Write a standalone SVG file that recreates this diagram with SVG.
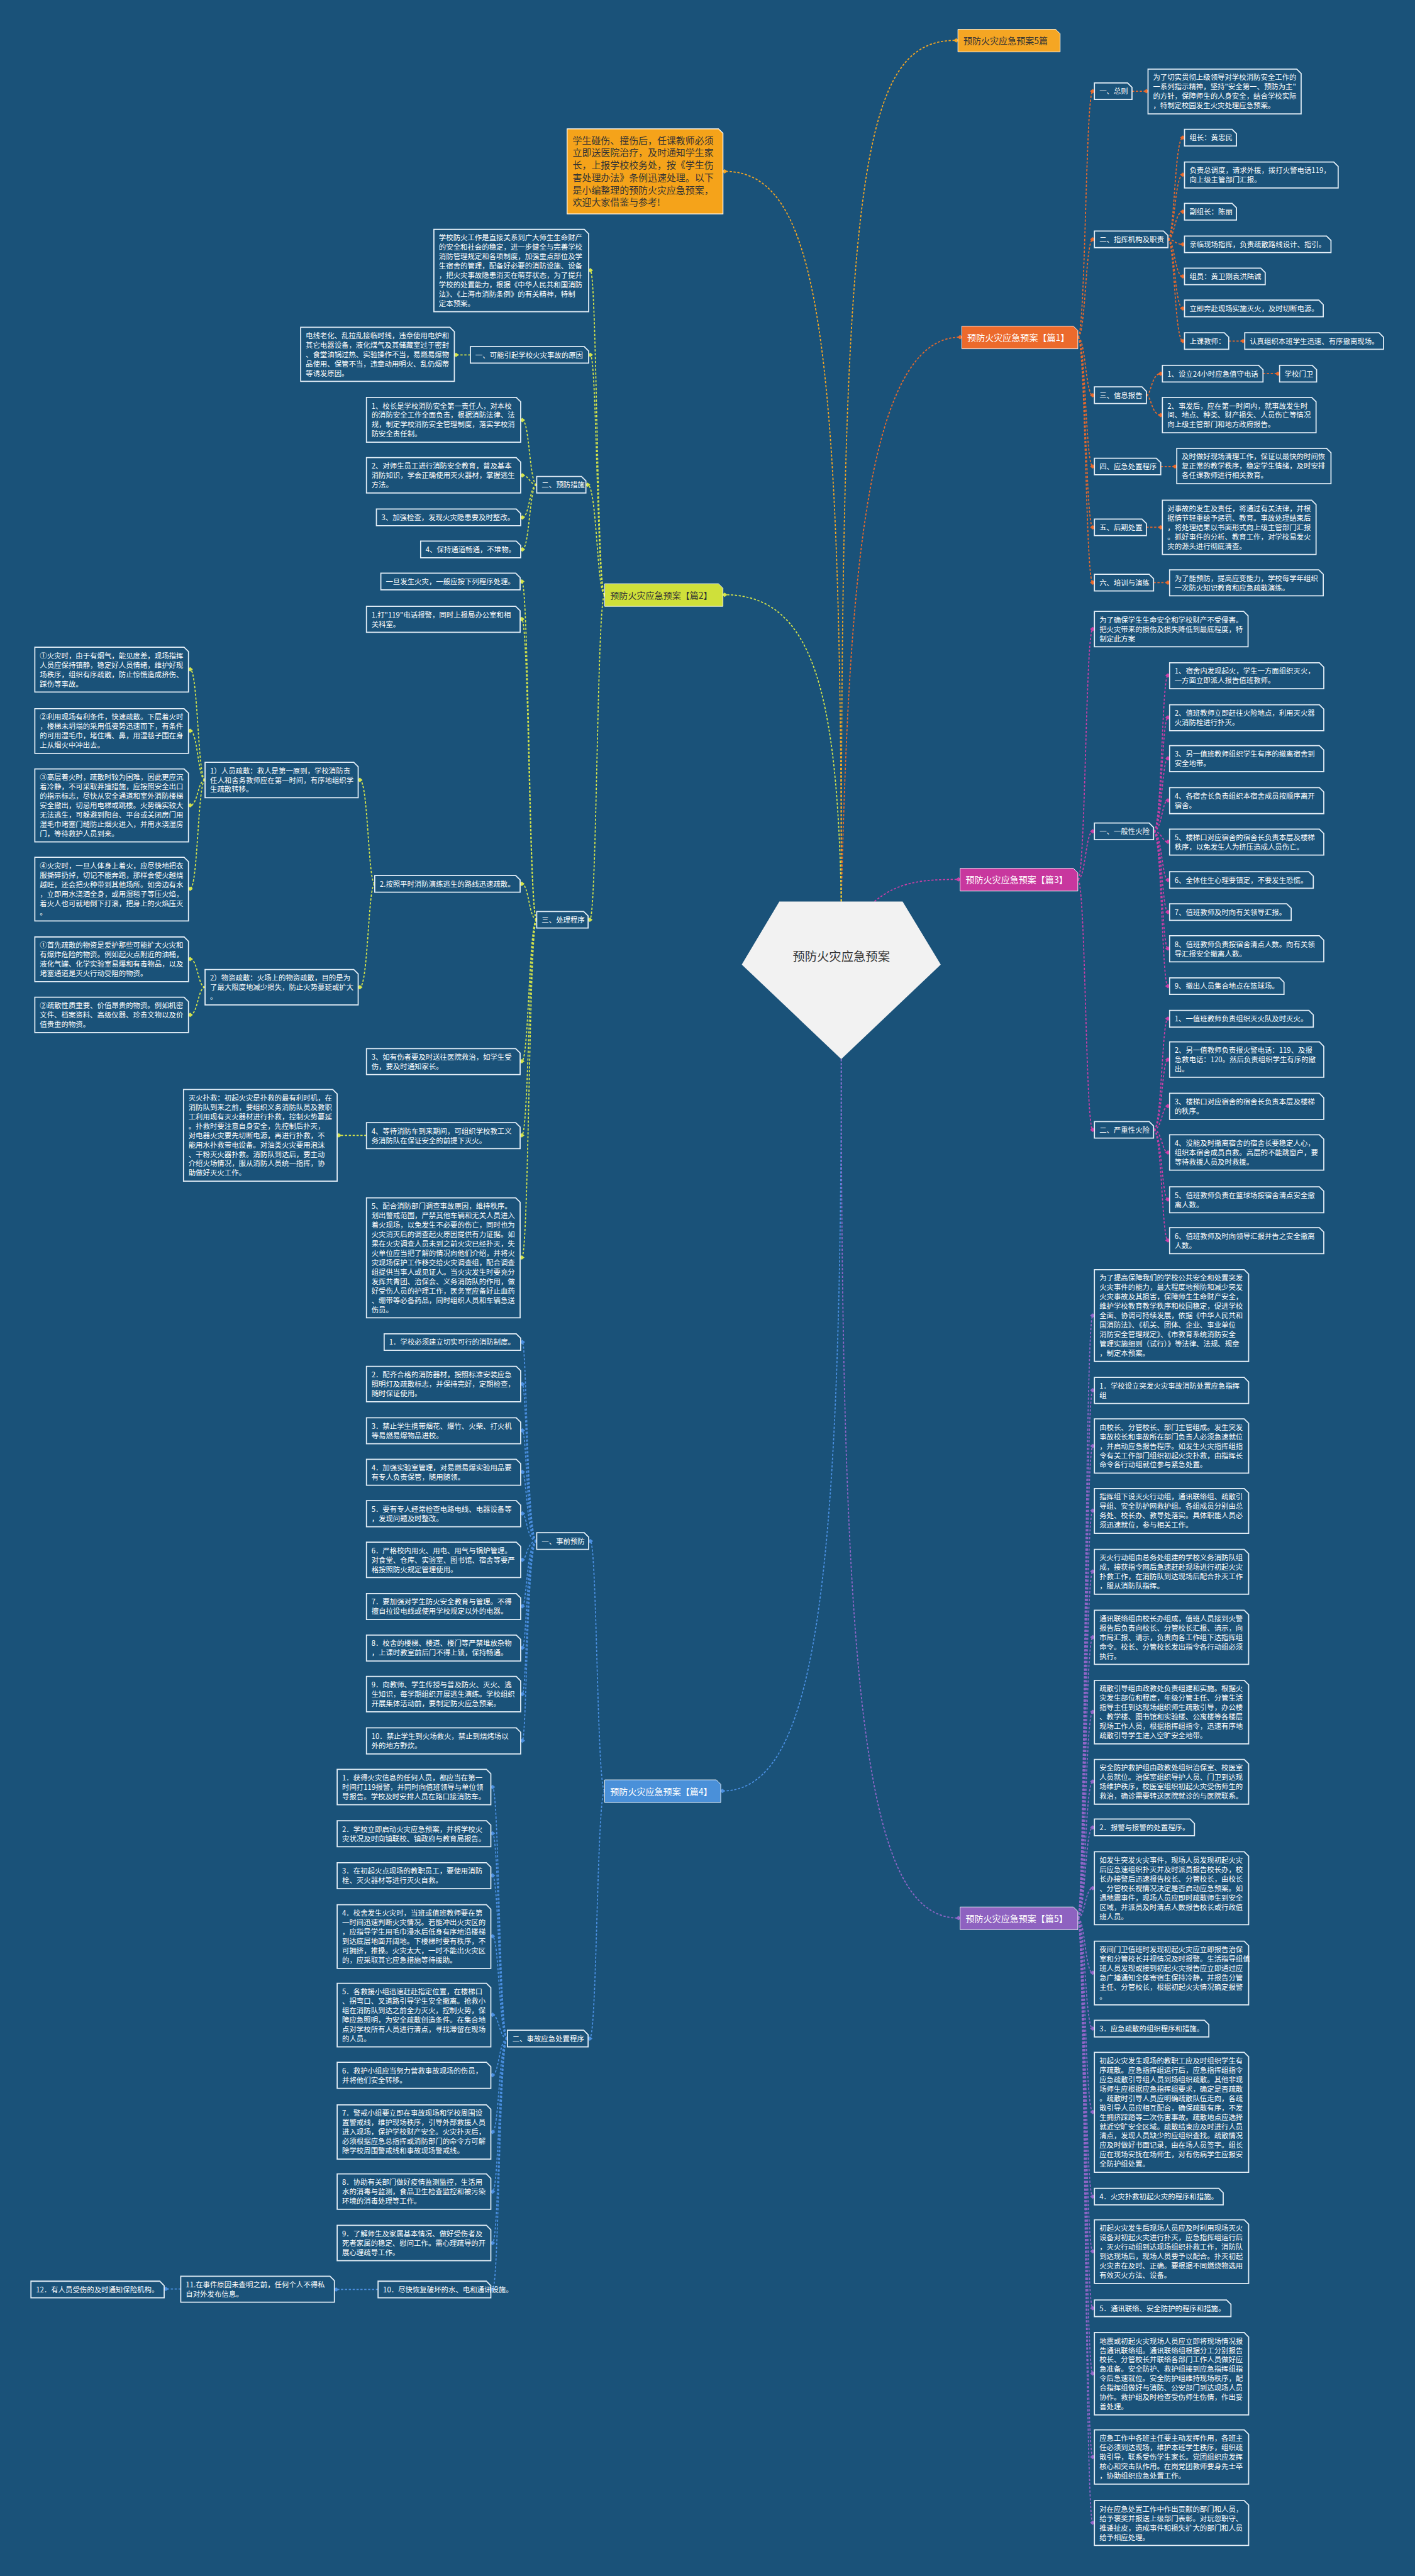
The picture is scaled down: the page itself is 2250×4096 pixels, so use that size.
<svg xmlns="http://www.w3.org/2000/svg" width="2250" height="4096" viewBox="0 0 2250 4096">
<defs>
<style>
.t{font-family:"Noto Sans CJK SC","Noto Sans",sans-serif;font-size:13px;fill:#ffffff}
.bx{fill:#1a5279;stroke:#e3eef7;stroke-width:2}
.c{fill:none;stroke-width:2;stroke-dasharray:4 3}
.lb{font-family:"Noto Sans CJK SC","Noto Sans",sans-serif;font-size:16px}
.cO{stroke:#e8692c}.cA{stroke:#f5a623}.cY{stroke:#d4e34a}.cM{stroke:#c93fa6}.cB{stroke:#4a8fe0}.cP{stroke:#9066c8}
</style>
<marker id="mO" viewBox="-5 -5 10 10" refX="0" refY="0" markerWidth="10" markerHeight="10" orient="auto" markerUnits="userSpaceOnUse"><path d="M-5 0L0-4L5 0L0 4z" fill="#e8692c"/></marker>
<marker id="mA" viewBox="-5 -5 10 10" refX="0" refY="0" markerWidth="10" markerHeight="10" orient="auto" markerUnits="userSpaceOnUse"><path d="M-5 0L0-4L5 0L0 4z" fill="#f5a623"/></marker>
<marker id="mY" viewBox="-5 -5 10 10" refX="0" refY="0" markerWidth="10" markerHeight="10" orient="auto" markerUnits="userSpaceOnUse"><path d="M-5 0L0-4L5 0L0 4z" fill="#d4e34a"/></marker>
<marker id="mM" viewBox="-5 -5 10 10" refX="0" refY="0" markerWidth="10" markerHeight="10" orient="auto" markerUnits="userSpaceOnUse"><path d="M-5 0L0-4L5 0L0 4z" fill="#c93fa6"/></marker>
<marker id="mB" viewBox="-5 -5 10 10" refX="0" refY="0" markerWidth="10" markerHeight="10" orient="auto" markerUnits="userSpaceOnUse"><path d="M-5 0L0-4L5 0L0 4z" fill="#4a8fe0"/></marker>
<marker id="mP" viewBox="-5 -5 10 10" refX="0" refY="0" markerWidth="10" markerHeight="10" orient="auto" markerUnits="userSpaceOnUse"><path d="M-5 0L0-4L5 0L0 4z" fill="#9066c8"/></marker>
</defs>
<rect x="0" y="0" width="2250" height="4096" fill="#1a5279"/>
<g transform="scale(0.87890625)">
<g id="connectors">
<path class="c cA" marker-end="url(#mA)" d="M1522 1631C1522 300 1560 73 1730 73"/>
<path class="c cA" marker-end="url(#mA)" d="M1522 1631C1522 600 1480 310 1311 310"/>
<path class="c cO" marker-end="url(#mO)" d="M1522 1631C1535 1100 1560 610 1737 610"/>
<path class="c cY" marker-end="url(#mY)" d="M1522 1631C1515 1250 1470 1076 1311 1076"/>
<path class="c cM" marker-end="url(#mM)" d="M1582 1631C1625 1595 1670 1591 1734 1591"/>
<path class="c cB" marker-end="url(#mB)" d="M1522 1916C1522 2900 1470 3240 1307 3240"/>
<path class="c cP" marker-end="url(#mP)" d="M1522 1916C1522 3100 1570 3470 1734 3470"/>
<g class="c cO" marker-end="url(#mO)">
<path d="M1950 610C1964 610 1964 165 1977 165"/>
<path d="M1950 610C1964 610 1964 433 1977 433"/>
<path d="M1950 610C1964 610 1964 715 1977 715"/>
<path d="M1950 610C1964 610 1964 844 1977 844"/>
<path d="M1950 610C1964 610 1964 954 1977 954"/>
<path d="M1950 610C1964 610 1964 1054 1977 1054"/>
<path d="M2048 165H2074"/>
<path d="M2113 433C2125 433 2125 249 2140 249"/>
<path d="M2113 433C2125 433 2125 316 2140 316"/>
<path d="M2113 433C2125 433 2125 383 2140 383"/>
<path d="M2113 433C2125 433 2125 442 2140 442"/>
<path d="M2113 433C2125 433 2125 500 2140 500"/>
<path d="M2113 433C2125 433 2125 558 2140 558"/>
<path d="M2113 433C2125 433 2125 617 2140 617"/>
<path d="M2223 617H2249"/>
<path d="M2074 715C2083 715 2083 676 2100 676"/>
<path d="M2074 715C2083 715 2083 751 2100 751"/>
<path d="M2285 676H2312"/>
<path d="M2100 844H2126"/>
<path d="M2074 954H2100"/>
<path d="M2087 1054H2113"/>
</g>
<g class="c cM" marker-end="url(#mM)">
<path d="M1950 1591C1964 1591 1964 1138 1977 1138"/>
<path d="M1950 1591C1964 1591 1964 1504 1977 1504"/>
<path d="M1950 1591C1964 1591 1964 2044 1977 2044"/>
<path d="M2087 1504C2102 1504 2102 1222 2113 1222"/>
<path d="M2087 1504C2102 1504 2102 1298 2113 1298"/>
<path d="M2087 1504C2102 1504 2102 1372 2113 1372"/>
<path d="M2087 1504C2102 1504 2102 1448 2113 1448"/>
<path d="M2087 1504C2102 1504 2102 1523 2113 1523"/>
<path d="M2087 1504C2102 1504 2102 1592 2113 1592"/>
<path d="M2087 1504C2102 1504 2102 1650 2113 1650"/>
<path d="M2087 1504C2102 1504 2102 1716 2113 1716"/>
<path d="M2087 1504C2102 1504 2102 1784 2113 1784"/>
<path d="M2087 2044C2102 2044 2102 1843 2113 1843"/>
<path d="M2087 2044C2102 2044 2102 1917 2113 1917"/>
<path d="M2087 2044C2102 2044 2102 2001 2113 2001"/>
<path d="M2087 2044C2102 2044 2102 2085 2113 2085"/>
<path d="M2087 2044C2102 2044 2102 2170 2113 2170"/>
<path d="M2087 2044C2102 2044 2102 2244 2113 2244"/>
</g>
<g class="c cP" marker-end="url(#mP)">
<path d="M1950 3470C1963 3470 1963 2380 1977 2380"/>
<path d="M1950 3470C1963 3470 1963 2515 1977 2515"/>
<path d="M1950 3470C1963 3470 1963 2616 1977 2616"/>
<path d="M1950 3470C1963 3470 1963 2733 1977 2733"/>
<path d="M1950 3470C1963 3470 1963 2843 1977 2843"/>
<path d="M1950 3470C1963 3470 1963 2962 1977 2962"/>
<path d="M1950 3470C1963 3470 1963 3097 1977 3097"/>
<path d="M1950 3470C1963 3470 1963 3223 1977 3223"/>
<path d="M1950 3470C1963 3470 1963 3306 1977 3306"/>
<path d="M1950 3470C1963 3470 1963 3416 1977 3416"/>
<path d="M1950 3470C1963 3470 1963 3569 1977 3569"/>
<path d="M1950 3470C1963 3470 1963 3670 1977 3670"/>
<path d="M1950 3470C1963 3470 1963 3821 1977 3821"/>
<path d="M1950 3470C1963 3470 1963 3974 1977 3974"/>
<path d="M1950 3470C1963 3470 1963 4073 1977 4073"/>
<path d="M1950 3470C1963 3470 1963 4176 1977 4176"/>
<path d="M1950 3470C1963 3470 1963 4294 1977 4294"/>
<path d="M1950 3470C1963 3470 1963 4445 1977 4445"/>
<path d="M1950 3470C1963 3470 1963 4564 1977 4564"/>
</g>
<g class="c cY" marker-end="url(#mY)">
<path d="M1094 1076C1080 1076 1080 489 1068 489"/>
<path d="M1094 1076C1080 1076 1080 642 1068 642"/>
<path d="M1094 1076C1080 1076 1080 877 1063 877"/>
<path d="M1094 1076C1080 1076 1080 1664 1067 1664"/>
<path d="M851 642H825"/>
<path d="M971 877C958 877 958 760 945 760"/>
<path d="M971 877C958 877 958 860 945 860"/>
<path d="M971 877C958 877 958 936 945 936"/>
<path d="M971 877C958 877 958 994 945 994"/>
<path d="M971 1664C957 1664 957 1052 944 1052"/>
<path d="M971 1664C957 1664 957 1120 944 1120"/>
<path d="M971 1664C957 1664 957 1599 944 1599"/>
<path d="M971 1664C957 1664 957 1920 944 1920"/>
<path d="M971 1664C957 1664 957 2054 944 2054"/>
<path d="M971 1664C957 1664 957 2275 944 2275"/>
<path d="M678 1599C666 1599 666 1411 651 1411"/>
<path d="M678 1599C666 1599 666 1786 651 1786"/>
<path d="M371 1411C358 1411 358 1211 344 1211"/>
<path d="M371 1411C358 1411 358 1322 344 1322"/>
<path d="M371 1411C358 1411 358 1457 344 1457"/>
<path d="M371 1411C358 1411 358 1608 344 1608"/>
<path d="M371 1786C358 1786 358 1735 344 1735"/>
<path d="M371 1786C358 1786 358 1836 344 1836"/>
<path d="M663 2054H613"/>
</g>
<g class="c cB" marker-end="url(#mB)">
<path d="M1094 3240C1080 3240 1080 2788 1068 2788"/>
<path d="M1094 3240C1080 3240 1080 3688 1067 3688"/>
<path d="M971 2788C953 2788 953 2428 945 2428"/>
<path d="M971 2788C953 2788 953 2504 945 2504"/>
<path d="M971 2788C953 2788 953 2588 945 2588"/>
<path d="M971 2788C953 2788 953 2663 945 2663"/>
<path d="M971 2788C953 2788 953 2738 945 2738"/>
<path d="M971 2788C953 2788 953 2822 945 2822"/>
<path d="M971 2788C953 2788 953 2906 945 2906"/>
<path d="M971 2788C953 2788 953 2981 945 2981"/>
<path d="M971 2788C953 2788 953 3065 945 3065"/>
<path d="M971 2788C953 2788 953 3149 945 3149"/>
<path d="M918 3688C903 3688 903 3233 891 3233"/>
<path d="M918 3688C903 3688 903 3317 891 3317"/>
<path d="M918 3688C903 3688 903 3393 891 3393"/>
<path d="M918 3688C903 3688 903 3503 891 3503"/>
<path d="M918 3688C903 3688 903 3645 891 3645"/>
<path d="M918 3688C903 3688 903 3754 891 3754"/>
<path d="M918 3688C903 3688 903 3857 891 3857"/>
<path d="M918 3688C903 3688 903 3965 891 3965"/>
<path d="M918 3688C903 3688 903 4058 891 4058"/>
<path d="M918 3688C903 3688 903 4142 891 4142"/>
<path d="M684 4142H608"/>
<path d="M327 4141H300"/>
</g>
</g>

<g id="center"><polygon points="1410,1631 1633,1631 1702,1745 1522,1916 1342,1745" fill="#f2f2f2"/><text x="1522" y="1739" text-anchor="middle" font-family="Noto Sans CJK SC,Noto Sans,sans-serif" font-size="22" fill="#333">预防火灾应急预案</text></g>

<g id="title5"><path d="M1733 53h177l8 8v33h-185z" fill="#f5a623" stroke="#fff" stroke-width="1"/><text class="lb" x="1743" y="80" fill="#333">预防火灾应急预案5篇</text></g>
<g id="note"><path d="M1026 233h274l8 8v146h-282z" fill="#f5a31a" stroke="#fff" stroke-width="1.5"/><text font-family="Noto Sans CJK SC,Noto Sans,sans-serif" font-size="17" fill="#333" x="1036" y="260"><tspan x="1036" dy="0">学生碰伤、撞伤后，任课教师必须</tspan><tspan x="1036" dy="22.5">立即送医院治疗，及时通知学生家</tspan><tspan x="1036" dy="22.5">长，上报学校校务处，按《学生伤</tspan><tspan x="1036" dy="22.5">害处理办法》条例迅速处理。以下</tspan><tspan x="1036" dy="22.5">是小编整理的预防火灾应急预案，</tspan><tspan x="1036" dy="22.5">欢迎大家借鉴与参考!</tspan></text></g>

<g id="p1"><path d="M1740 590h202l8 8v33h-210z" fill="#ec6a2c" stroke="#fff" stroke-width="1"/><text class="lb" x="1750" y="617" fill="#fff">预防火灾应急预案【篇1】</text></g>
<g id="p1a"><path class="bx" d="M1980 150h60l8 8v22h-68z"/><text class="t" x="1989" y="170">一、总则</text></g>
<g id="p1a1"><path class="bx" d="M2077 125h269l8 8v73h-277z"/><text class="t" x="2086" y="145"><tspan x="2086" dy="0">为了切实贯彻上级领导对学校消防安全工作的</tspan><tspan x="2086" dy="17">一系列指示精神，坚持"安全第一、预防为主"</tspan><tspan x="2086" dy="17">的方针，保障师生的人身安全，结合学校实际</tspan><tspan x="2086" dy="17">，特制定校园发生火灾处理应急预案。</tspan></text></g>
<g id="p1b"><path class="bx" d="M1980 418h125l8 8v22h-133z"/><text class="t" x="1989" y="438">二、指挥机构及职责</text></g>
<g id="p1b1"><path class="bx" d="M2143 234h86l8 8v22h-94z"/><text class="t" x="2152" y="254">组长：黄忠民</text></g>
<g id="p1b2"><path class="bx" d="M2143 293h270l8 8v39h-278z"/><text class="t" x="2152" y="313"><tspan x="2152" dy="0">负责总调度，请求外援，拨打火警电话119，</tspan><tspan x="2152" dy="17">向上级主管部门汇报。</tspan></text></g>
<g id="p1b3"><path class="bx" d="M2143 368h86l8 8v22h-94z"/><text class="t" x="2152" y="388">副组长：陈丽</text></g>
<g id="p1b4"><path class="bx" d="M2143 427h257l8 8v22h-265z"/><text class="t" x="2152" y="447">亲临现场指挥，负责疏散路线设计、指引。</text></g>
<g id="p1b5"><path class="bx" d="M2143 485h138l8 8v22h-146z"/><text class="t" x="2152" y="505">组员：黄卫刚袁洪陆诚</text></g>
<g id="p1b6"><path class="bx" d="M2143 543h243l8 8v22h-251z"/><text class="t" x="2152" y="563">立即奔赴现场实施灭火，及时切断电源。</text></g>
<g id="p1b7"><path class="bx" d="M2143 602h72l8 8v22h-80z"/><text class="t" x="2152" y="622">上课教师：</text></g>
<g id="p1b7a"><path class="bx" d="M2252 602h243l8 8v22h-251z"/><text class="t" x="2261" y="622">认真组织本班学生迅速、有序撤离现场。</text></g>
<g id="p1c"><path class="bx" d="M1980 700h86l8 8v22h-94z"/><text class="t" x="1989" y="720">三、信息报告</text></g>
<g id="p1c1"><path class="bx" d="M2103 661h174l8 8v22h-182z"/><text class="t" x="2112" y="681">1、设立24小时应急值守电话</text></g>
<g id="p1c1a"><path class="bx" d="M2315 661h59l8 8v22h-67z"/><text class="t" x="2324" y="681">学校门卫</text></g>
<g id="p1c2"><path class="bx" d="M2103 719h270l8 8v56h-278z"/><text class="t" x="2112" y="739"><tspan x="2112" dy="0">2、事发后，应在第一时间内，就事故发生时</tspan><tspan x="2112" dy="17">间、地点、种类、财产损失、人员伤亡等情况</tspan><tspan x="2112" dy="17">向上级主管部门和地方政府报告。</tspan></text></g>
<g id="p1d"><path class="bx" d="M1980 829h112l8 8v22h-120z"/><text class="t" x="1989" y="849">四、应急处置程序</text></g>
<g id="p1d1"><path class="bx" d="M2129 811h271l8 8v56h-279z"/><text class="t" x="2138" y="831"><tspan x="2138" dy="0">及时做好现场清理工作，保证以最快的时间恢</tspan><tspan x="2138" dy="17">复正常的教学秩序，稳定学生情绪，及时安排</tspan><tspan x="2138" dy="17">各任课教师进行相关教育。</tspan></text></g>
<g id="p1e"><path class="bx" d="M1980 939h86l8 8v22h-94z"/><text class="t" x="1989" y="959">五、后期处置</text></g>
<g id="p1e1"><path class="bx" d="M2103 905h270l8 8v90h-278z"/><text class="t" x="2112" y="925"><tspan x="2112" dy="0">对事故的发生及责任，将通过有关法律，并根</tspan><tspan x="2112" dy="17">据情节轻重给予惩罚、教育。事故处理结束后</tspan><tspan x="2112" dy="17">，将处理结果以书面形式向上级主管部门汇报</tspan><tspan x="2112" dy="17">。抓好事件的分析、教育工作，对学校易发火</tspan><tspan x="2112" dy="17">灾的源头进行彻底清查。</tspan></text></g>
<g id="p1f"><path class="bx" d="M1980 1039h99l8 8v22h-107z"/><text class="t" x="1989" y="1059">六、培训与演练</text></g>
<g id="p1f1"><path class="bx" d="M2116 1031h270l8 8v39h-278z"/><text class="t" x="2125" y="1051"><tspan x="2125" dy="0">为了能预防，提高应变能力，学校每学年组织</tspan><tspan x="2125" dy="17">一次防火知识教育和应急疏散演练。</tspan></text></g>

<g id="p3"><path d="M1737 1571h205l8 8v33h-213z" fill="#c8379e" stroke="#fff" stroke-width="1"/><text class="lb" x="1747" y="1598" fill="#fff">预防火灾应急预案【篇3】</text></g>
<g id="p3i"><path class="bx" d="M1980 1106h270l8 8v56h-278z"/><text class="t" x="1989" y="1126"><tspan x="1989" dy="0">为了确保学生生命安全和学校财产不受侵害。</tspan><tspan x="1989" dy="17">把火灾带来的损伤及损失降低到最底程度，特</tspan><tspan x="1989" dy="17">制定此方案</tspan></text></g>
<g id="p3a"><path class="bx" d="M1980 1489h99l8 8v22h-107z"/><text class="t" x="1989" y="1509">一、一般性火险</text></g>
<g id="p3a1"><path class="bx" d="M2116 1199h271l8 8v39h-279z"/><text class="t" x="2125" y="1219"><tspan x="2125" dy="0">1、宿舍内发现起火，学生一方面组织灭火，</tspan><tspan x="2125" dy="17">一方面立即派人报告值班教师。</tspan></text></g>
<g id="p3a2"><path class="bx" d="M2116 1275h271l8 8v39h-279z"/><text class="t" x="2125" y="1295"><tspan x="2125" dy="0">2、值班教师立即赶往火险地点，利用灭火器</tspan><tspan x="2125" dy="17">火消防栓进行扑灭。</tspan></text></g>
<g id="p3a3"><path class="bx" d="M2116 1349h271l8 8v39h-279z"/><text class="t" x="2125" y="1369"><tspan x="2125" dy="0">3、另一值班教师组织学生有序的撤离宿舍到</tspan><tspan x="2125" dy="17">安全地带。</tspan></text></g>
<g id="p3a4"><path class="bx" d="M2116 1425h271l8 8v39h-279z"/><text class="t" x="2125" y="1445"><tspan x="2125" dy="0">4、各宿舍长负责组织本宿舍成员按顺序离开</tspan><tspan x="2125" dy="17">宿舍。</tspan></text></g>
<g id="p3a5"><path class="bx" d="M2116 1500h271l8 8v39h-279z"/><text class="t" x="2125" y="1520"><tspan x="2125" dy="0">5、楼梯口对应宿舍的宿舍长负责本层及楼梯</tspan><tspan x="2125" dy="17">秩序，以免发生人为挤压造成人员伤亡。</tspan></text></g>
<g id="p3a6"><path class="bx" d="M2116 1577h252l8 8v22h-260z"/><text class="t" x="2125" y="1597">6、全体住生心理要镇定，不要发生恐慌。</text></g>
<g id="p3a7"><path class="bx" d="M2116 1635h212l8 8v22h-220z"/><text class="t" x="2125" y="1655">7、值班教师及时向有关领导汇报。</text></g>
<g id="p3a8"><path class="bx" d="M2116 1693h271l8 8v39h-279z"/><text class="t" x="2125" y="1713"><tspan x="2125" dy="0">8、值班教师负责按宿舍清点人数。向有关领</tspan><tspan x="2125" dy="17">导汇报安全撤离人数。</tspan></text></g>
<g id="p3a9"><path class="bx" d="M2116 1769h199l8 8v22h-207z"/><text class="t" x="2125" y="1789">9、撤出人员集合地点在篮球场。</text></g>
<g id="p3b"><path class="bx" d="M1980 2029h99l8 8v22h-107z"/><text class="t" x="1989" y="2049">二、严重性火险</text></g>
<g id="p3b1"><path class="bx" d="M2116 1828h252l8 8v22h-260z"/><text class="t" x="2125" y="1848">1、一值班教师负责组织灭火队及时灭火。</text></g>
<g id="p3b2"><path class="bx" d="M2116 1885h271l8 8v56h-279z"/><text class="t" x="2125" y="1905"><tspan x="2125" dy="0">2、另一值教师负责报火警电话：119、及报</tspan><tspan x="2125" dy="17">急救电话：120。然后负责组织学生有序的撤</tspan><tspan x="2125" dy="17">出。</tspan></text></g>
<g id="p3b3"><path class="bx" d="M2116 1978h271l8 8v39h-279z"/><text class="t" x="2125" y="1998"><tspan x="2125" dy="0">3、楼梯口对应宿舍的宿舍长负责本层及楼梯</tspan><tspan x="2125" dy="17">的秩序。</tspan></text></g>
<g id="p3b4"><path class="bx" d="M2116 2053h271l8 8v56h-279z"/><text class="t" x="2125" y="2073"><tspan x="2125" dy="0">4、没能及时撤离宿舍的宿舍长要稳定人心，</tspan><tspan x="2125" dy="17">组织本宿舍成员自救。高层的不能跳窗户，要</tspan><tspan x="2125" dy="17">等待救援人员及时救援。</tspan></text></g>
<g id="p3b5"><path class="bx" d="M2116 2147h271l8 8v39h-279z"/><text class="t" x="2125" y="2167"><tspan x="2125" dy="0">5、值班教师负责在篮球场按宿舍清点安全撤</tspan><tspan x="2125" dy="17">离人数。</tspan></text></g>
<g id="p3b6"><path class="bx" d="M2116 2221h271l8 8v39h-279z"/><text class="t" x="2125" y="2241"><tspan x="2125" dy="0">6、值班教师及时向领导汇报并告之安全撤离</tspan><tspan x="2125" dy="17">人数。</tspan></text></g>

<g id="p5"><path d="M1737 3450h205l8 8v33h-213z" fill="#8e62c0" stroke="#fff" stroke-width="1"/><text class="lb" x="1747" y="3477" fill="#fff">预防火灾应急预案【篇5】</text></g>
<g id="p5a"><path class="bx" d="M1980 2297h271l8 8v158h-279z"/><text class="t" x="1989" y="2317"><tspan x="1989" dy="0">为了提高保障我们的学校公共安全和处置突发</tspan><tspan x="1989" dy="17">火灾事件的能力，最大程度地预防和减少突发</tspan><tspan x="1989" dy="17">火灾事故及其损害，保障师生生命财产安全，</tspan><tspan x="1989" dy="17">维护学校教育教学秩序和校园稳定，促进学校</tspan><tspan x="1989" dy="17">全面、协调可持续发展，依据《中华人民共和</tspan><tspan x="1989" dy="17">国消防法》、《机关、团体、企业、事业单位</tspan><tspan x="1989" dy="17">消防安全管理规定》、《市教育系统消防安全</tspan><tspan x="1989" dy="17">管理实施细则（试行）》等法律、法规、规章</tspan><tspan x="1989" dy="17">，制定本预案。</tspan></text></g>
<g id="p5b"><path class="bx" d="M1980 2492h271l8 8v39h-279z"/><text class="t" x="1989" y="2512"><tspan x="1989" dy="0">1．学校设立突发火灾事故消防处置应急指挥</tspan><tspan x="1989" dy="17">组</tspan></text></g>
<g id="p5c"><path class="bx" d="M1980 2567h271l8 8v90h-279z"/><text class="t" x="1989" y="2587"><tspan x="1989" dy="0">由校长、分管校长、部门主管组成。发生突发</tspan><tspan x="1989" dy="17">事故校长和事故所在部门负责人必须急速就位</tspan><tspan x="1989" dy="17">，并启动应急报告程序。如发生火灾指挥组指</tspan><tspan x="1989" dy="17">令有关工作部门组织初起火灾扑救，由指挥长</tspan><tspan x="1989" dy="17">命令各行动组就位参与紧急处置。</tspan></text></g>
<g id="p5d"><path class="bx" d="M1980 2693h271l8 8v73h-279z"/><text class="t" x="1989" y="2713"><tspan x="1989" dy="0">指挥组下设灭火行动组，通讯联络组、疏散引</tspan><tspan x="1989" dy="17">导组、安全防护网救护组。各组成员分别由总</tspan><tspan x="1989" dy="17">务处、校长办、教导处落实。具体职能人员必</tspan><tspan x="1989" dy="17">须迅速就位，参与相关工作。</tspan></text></g>
<g id="p5e"><path class="bx" d="M1980 2803h271l8 8v73h-279z"/><text class="t" x="1989" y="2823"><tspan x="1989" dy="0">灭火行动组由总务处组建的学校义务消防队组</tspan><tspan x="1989" dy="17">成，接获指令网后急速赶赴现场进行初起火灾</tspan><tspan x="1989" dy="17">扑救工作，在消防队到达现场后配合扑灭工作</tspan><tspan x="1989" dy="17">，服从消防队指挥。</tspan></text></g>
<g id="p5f"><path class="bx" d="M1980 2913h271l8 8v90h-279z"/><text class="t" x="1989" y="2933"><tspan x="1989" dy="0">通讯联络组由校长办组成，值班人员接到火警</tspan><tspan x="1989" dy="17">报告后负责向校长、分管校长汇报、请示，向</tspan><tspan x="1989" dy="17">市局汇报、请示，负责向各工作组下达指挥组</tspan><tspan x="1989" dy="17">命令。校长、分管校长发出指令各行动组必须</tspan><tspan x="1989" dy="17">执行。</tspan></text></g>
<g id="p5g"><path class="bx" d="M1980 3040h271l8 8v107h-279z"/><text class="t" x="1989" y="3060"><tspan x="1989" dy="0">疏散引导组由政教处负责组建和实施。根据火</tspan><tspan x="1989" dy="17">灾发生部位和程度，年级分管主任、分管生活</tspan><tspan x="1989" dy="17">指导主任到达现场组织师生疏散引导，办公楼</tspan><tspan x="1989" dy="17">、教学楼、图书馆和实验楼、公寓楼等各楼层</tspan><tspan x="1989" dy="17">现场工作人员，根据指挥组指令，迅速有序地</tspan><tspan x="1989" dy="17">疏散引导学生进入空旷安全地带。</tspan></text></g>
<g id="p5h"><path class="bx" d="M1980 3183h271l8 8v73h-279z"/><text class="t" x="1989" y="3203"><tspan x="1989" dy="0">安全防护救护组由政教处组织治保室、校医室</tspan><tspan x="1989" dy="17">人员就位。治保室组织导护人员、门卫到达现</tspan><tspan x="1989" dy="17">场维护秩序，校医室组织初起火灾受伤师生的</tspan><tspan x="1989" dy="17">救治，确诊需要转送医院就诊的与医院联系。</tspan></text></g>
<g id="p5i"><path class="bx" d="M1980 3291h173l8 8v22h-181z"/><text class="t" x="1989" y="3311">2．报警与接警的处置程序。</text></g>
<g id="p5j"><path class="bx" d="M1980 3350h271l8 8v124h-279z"/><text class="t" x="1989" y="3370"><tspan x="1989" dy="0">如发生突发火灾事件，现场人员发现初起火灾</tspan><tspan x="1989" dy="17">后应急速组织扑灭并及时派员报告校长办，校</tspan><tspan x="1989" dy="17">长办接警后迅速报告校长、分管校长，由校长</tspan><tspan x="1989" dy="17">、分管校长视情况决定是否启动应急预案。如</tspan><tspan x="1989" dy="17">遇地震事件，现场人员应即时疏散师生到安全</tspan><tspan x="1989" dy="17">区域，并派员及时清点人数报告校长或行政值</tspan><tspan x="1989" dy="17">班人员。</tspan></text></g>
<g id="p5k"><path class="bx" d="M1980 3512h271l8 8v107h-279z"/><text class="t" x="1989" y="3532"><tspan x="1989" dy="0">夜间门卫值班时发现初起火灾应立即报告治保</tspan><tspan x="1989" dy="17">室和分管校长并视情况及时报警。生活指导组值</tspan><tspan x="1989" dy="17">班人员发现或接到初起火灾报告应立即通过应</tspan><tspan x="1989" dy="17">急广播通知全体寄宿生保持冷静，并报告分管</tspan><tspan x="1989" dy="17">主任、分管校长，根据初起火灾情况确定报警</tspan><tspan x="1989" dy="17">。</tspan></text></g>
<g id="p5l"><path class="bx" d="M1980 3655h199l8 8v22h-207z"/><text class="t" x="1989" y="3675">3．应急疏散的组织程序和措施。</text></g>
<g id="p5m"><path class="bx" d="M1980 3713h271l8 8v209h-279z"/><text class="t" x="1989" y="3733"><tspan x="1989" dy="0">初起火灾发生现场的教职工应及时组织学生有</tspan><tspan x="1989" dy="17">序疏散。应急指挥组运行后，应急指挥组指令</tspan><tspan x="1989" dy="17">应急疏散引导组人员到场组织疏散。其他非现</tspan><tspan x="1989" dy="17">场师生应根据应急指挥组要求，确定是否疏散</tspan><tspan x="1989" dy="17">。疏散时引导人员应明确疏散队伍走向，各疏</tspan><tspan x="1989" dy="17">散引导人员应相互配合，确保疏散有序，不发</tspan><tspan x="1989" dy="17">生拥挤踩踏等二次伤害事故。疏散地点应选择</tspan><tspan x="1989" dy="17">就近空旷安全区域。疏散结束应及时进行人员</tspan><tspan x="1989" dy="17">清点，发现人员缺少的应组织查找。疏散情况</tspan><tspan x="1989" dy="17">应及时做好书面记录，由在场人员签字。组长</tspan><tspan x="1989" dy="17">应在现场安抚在场师生，对有伤病学生应报安</tspan><tspan x="1989" dy="17">全防护组处置。</tspan></text></g>
<g id="p5n"><path class="bx" d="M1980 3959h225l8 8v22h-233z"/><text class="t" x="1989" y="3979">4．火灾扑救初起火灾的程序和措施。</text></g>
<g id="p5o"><path class="bx" d="M1980 4016h271l8 8v107h-279z"/><text class="t" x="1989" y="4036"><tspan x="1989" dy="0">初起火灾发生后现场人员应及时利用现场灭火</tspan><tspan x="1989" dy="17">设备对初起火灾进行扑灭，应急指挥组运行后</tspan><tspan x="1989" dy="17">，灭火行动组到达现场组织扑救工作，消防队</tspan><tspan x="1989" dy="17">到达现场后，现场人员要予以配合。扑灭初起</tspan><tspan x="1989" dy="17">火灾贵在及时、正确。要根据不同燃烧物选用</tspan><tspan x="1989" dy="17">有效灭火方法、设备。</tspan></text></g>
<g id="p5p"><path class="bx" d="M1980 4161h239l8 8v22h-247z"/><text class="t" x="1989" y="4181">5．通讯联络、安全防护的程序和措施。</text></g>
<g id="p5q"><path class="bx" d="M1980 4220h271l8 8v141h-279z"/><text class="t" x="1989" y="4240"><tspan x="1989" dy="0">地震或初起火灾现场人员应立即将现场情况报</tspan><tspan x="1989" dy="17">告通讯联络组。通讯联络组根据分工分别报告</tspan><tspan x="1989" dy="17">校长、分管校长并联络各部门工作人员做好应</tspan><tspan x="1989" dy="17">急准备。安全防护、救护组接到应急指挥组指</tspan><tspan x="1989" dy="17">令后急速就位。安全防护组维持现场秩序，配</tspan><tspan x="1989" dy="17">合指挥组做好与消防、公安部门到达现场人员</tspan><tspan x="1989" dy="17">协作。救护组及时检查受伤师生伤情，作出妥</tspan><tspan x="1989" dy="17">善处理。</tspan></text></g>
<g id="p5r"><path class="bx" d="M1980 4396h271l8 8v90h-279z"/><text class="t" x="1989" y="4416"><tspan x="1989" dy="0">应急工作中各班主任要主动发挥作用，各班主</tspan><tspan x="1989" dy="17">任必须到达现场，维护本班学生秩序，组织疏</tspan><tspan x="1989" dy="17">散引导，联系受伤学生家长。党团组织应发挥</tspan><tspan x="1989" dy="17">核心和突击队作用。在岗党团教师要身先士卒</tspan><tspan x="1989" dy="17">，协助组织应急处置工作。</tspan></text></g>
<g id="p5s"><path class="bx" d="M1980 4524h271l8 8v73h-279z"/><text class="t" x="1989" y="4544"><tspan x="1989" dy="0">对在应急处置工作中作出贡献的部门和人员，</tspan><tspan x="1989" dy="17">给予褒奖并报送上级部门表彰。对玩忽职守、</tspan><tspan x="1989" dy="17">推诿扯皮，造成事件和损失扩大的部门和人员</tspan><tspan x="1989" dy="17">给予相应处理。</tspan></text></g>

<g id="p2"><path d="M1094 1056h206l8 8v33h-214z" fill="#cfe03a" stroke="#fff" stroke-width="1"/><text class="lb" x="1104" y="1083" fill="#333">预防火灾应急预案【篇2】</text></g>
<g id="p2a"><path class="bx" d="M785 415h272l8 8v141h-280z"/><text class="t" x="794" y="435"><tspan x="794" dy="0">学校防火工作是直接关系到广大师生生命财产</tspan><tspan x="794" dy="17">的安全和社会的稳定，进一步健全与完善学校</tspan><tspan x="794" dy="17">消防管理规定和各项制度，加强重点部位及学</tspan><tspan x="794" dy="17">生宿舍的管理，配备好必要的消防设施、设备</tspan><tspan x="794" dy="17">，把火灾事故隐患消灭在萌芽状态，为了提升</tspan><tspan x="794" dy="17">学校的处置能力，根据《中华人民共和国消防</tspan><tspan x="794" dy="17">法》、《上海市消防条例》的有关精神，特制</tspan><tspan x="794" dy="17">定本预案。</tspan></text></g>
<g id="p2b"><path class="bx" d="M851 627h206l8 8v22h-214z"/><text class="t" x="860" y="647">一、可能引起学校火灾事故的原因</text></g>
<g id="p2b1"><path class="bx" d="M544 592h270l8 8v90h-278z"/><text class="t" x="553" y="612"><tspan x="553" dy="0">电线老化、乱拉乱接临时线，违章使用电炉和</tspan><tspan x="553" dy="17">其它电器设备，液化煤气及其储藏室过于密封</tspan><tspan x="553" dy="17">、食堂油锅过热、实验操作不当，易燃易爆物</tspan><tspan x="553" dy="17">品使用、保管不当，违章动用明火、乱仍烟蒂</tspan><tspan x="553" dy="17">等诱发原因。</tspan></text></g>
<g id="p2c"><path class="bx" d="M971 862h81l8 8v22h-89z"/><text class="t" x="980" y="882">二、预防措施</text></g>
<g id="p2c1"><path class="bx" d="M663 719h271l8 8v73h-279z"/><text class="t" x="672" y="739"><tspan x="672" dy="0">1、校长是学校消防安全第一责任人，对本校</tspan><tspan x="672" dy="17">的消防安全工作全面负责，根据消防法律、法</tspan><tspan x="672" dy="17">规，制定学校消防安全管理制度，落实学校消</tspan><tspan x="672" dy="17">防安全责任制。</tspan></text></g>
<g id="p2c2"><path class="bx" d="M663 828h271l8 8v56h-279z"/><text class="t" x="672" y="848"><tspan x="672" dy="0">2、对师生员工进行消防安全教育，普及基本</tspan><tspan x="672" dy="17">消防知识，学会正确使用灭火器材，掌握逃生</tspan><tspan x="672" dy="17">方法。</tspan></text></g>
<g id="p2c3"><path class="bx" d="M681 921h253l8 8v22h-261z"/><text class="t" x="690" y="941">3、加强检查，发现火灾隐患要及时整改。</text></g>
<g id="p2c4"><path class="bx" d="M761 979h173l8 8v22h-181z"/><text class="t" x="770" y="999">4、保持通道畅通，不堆物。</text></g>
<g id="p2d"><path class="bx" d="M971 1649h85l8 8v22h-93z"/><text class="t" x="980" y="1669">三、处理程序</text></g>
<g id="p2d0"><path class="bx" d="M689 1037h244l8 8v22h-252z"/><text class="t" x="698" y="1057">一旦发生火灾，一般应按下列程序处理。</text></g>
<g id="p2d1"><path class="bx" d="M663 1097h270l8 8v39h-278z"/><text class="t" x="672" y="1117"><tspan x="672" dy="0">1.打"119"电话报警，同时上报局办公室和相</tspan><tspan x="672" dy="17">关科室。</tspan></text></g>
<g id="p2d2"><path class="bx" d="M678 1584h255l8 8v22h-263z"/><text class="t" x="687" y="1604">2.按照平时消防演练逃生的路线迅速疏散。</text></g>
<g id="p2d2a"><path class="bx" d="M371 1379h269l8 8v56h-277z"/><text class="t" x="380" y="1399"><tspan x="380" dy="0">1）人员疏散：救人是第一原则，学校消防责</tspan><tspan x="380" dy="17">任人和舍务教师应在第一时间，有序地组织学</tspan><tspan x="380" dy="17">生疏散转移。</tspan></text></g>
<g id="p2d2a1"><path class="bx" d="M63 1171h270l8 8v73h-278z"/><text class="t" x="72" y="1191"><tspan x="72" dy="0">①火灾时，由于有烟气，能见度差，现场指挥</tspan><tspan x="72" dy="17">人员应保持镇静，稳定好人员情绪，维护好现</tspan><tspan x="72" dy="17">场秩序，组织有序疏散，防止惊慌造成挤伤、</tspan><tspan x="72" dy="17">踩伤等事故。</tspan></text></g>
<g id="p2d2a2"><path class="bx" d="M63 1282h270l8 8v73h-278z"/><text class="t" x="72" y="1302"><tspan x="72" dy="0">②利用现场有利条件，快速疏散。下层着火时</tspan><tspan x="72" dy="17">，楼梯未坍塌的采用低姿势迅速而下，有条件</tspan><tspan x="72" dy="17">的可用湿毛巾，堵住嘴、鼻，用湿毯子围在身</tspan><tspan x="72" dy="17">上从烟火中冲出去。</tspan></text></g>
<g id="p2d2a3"><path class="bx" d="M63 1391h270l8 8v124h-278z"/><text class="t" x="72" y="1411"><tspan x="72" dy="0">③高层着火时，疏散时较为困难，因此更应沉</tspan><tspan x="72" dy="17">着冷静，不可采取莽撞措施，应按照安全出口</tspan><tspan x="72" dy="17">的指示标志，尽快从安全通道和室外消防楼梯</tspan><tspan x="72" dy="17">安全撤出，切忌用电梯或跳楼。火势确实较大</tspan><tspan x="72" dy="17">无法逃生，可躲避到阳台、平台或关闭房门用</tspan><tspan x="72" dy="17">湿毛巾堵塞门缝防止烟火进入，并用水浇湿房</tspan><tspan x="72" dy="17">门，等待救护人员到来。</tspan></text></g>
<g id="p2d2a4"><path class="bx" d="M63 1551h270l8 8v107h-278z"/><text class="t" x="72" y="1571"><tspan x="72" dy="0">④火灾时，一旦人体身上着火，应尽快地把衣</tspan><tspan x="72" dy="17">服撕碎扔掉，切记不能奔跑，那样会使火越烧</tspan><tspan x="72" dy="17">越旺，还会把火种带到其他场所。如旁边有水</tspan><tspan x="72" dy="17">，立即用水浇洒全身，或用湿毯子等压火焰，</tspan><tspan x="72" dy="17">着火人也可就地倒下打滚，把身上的火焰压灭</tspan><tspan x="72" dy="17">。</tspan></text></g>
<g id="p2d2b"><path class="bx" d="M371 1754h269l8 8v56h-277z"/><text class="t" x="380" y="1774"><tspan x="380" dy="0">2）物资疏散：火场上的物资疏散，目的是为</tspan><tspan x="380" dy="17">了最大限度地减少损失，防止火势蔓延或扩大</tspan><tspan x="380" dy="17">。</tspan></text></g>
<g id="p2d2b1"><path class="bx" d="M63 1695h270l8 8v73h-278z"/><text class="t" x="72" y="1715"><tspan x="72" dy="0">①首先疏散的物资是爱护那些可能扩大火灾和</tspan><tspan x="72" dy="17">有爆炸危险的物资。例如起火点附近的油桶，</tspan><tspan x="72" dy="17">液化气罐、化学实验室易爆和有毒物品，以及</tspan><tspan x="72" dy="17">堵塞通道是灭火行动受阻的物资。</tspan></text></g>
<g id="p2d2b2"><path class="bx" d="M63 1804h270l8 8v56h-278z"/><text class="t" x="72" y="1824"><tspan x="72" dy="0">②疏散性质重要、价值昂贵的物资。例如机密</tspan><tspan x="72" dy="17">文件、档案资料、高级仪器、珍贵文物以及价</tspan><tspan x="72" dy="17">值贵重的物资。</tspan></text></g>
<g id="p2d3"><path class="bx" d="M663 1897h270l8 8v39h-278z"/><text class="t" x="672" y="1917"><tspan x="672" dy="0">3、如有伤者要及时送往医院救治，如学生受</tspan><tspan x="672" dy="17">伤，要及时通知家长。</tspan></text></g>
<g id="p2d4"><path class="bx" d="M663 2031h270l8 8v39h-278z"/><text class="t" x="672" y="2051"><tspan x="672" dy="0">4、等待消防车到来期间，可组织学校教工义</tspan><tspan x="672" dy="17">务消防队在保证安全的前提下灭火。</tspan></text></g>
<g id="p2d4a"><path class="bx" d="M332 1971h270l8 8v158h-278z"/><text class="t" x="341" y="1991"><tspan x="341" dy="0">灭火扑救：初起火灾是扑救的最有利时机，在</tspan><tspan x="341" dy="17">消防队到来之前，要组织义务消防队员及教职</tspan><tspan x="341" dy="17">工利用现有灭火器材进行扑救，控制火势蔓延</tspan><tspan x="341" dy="17">。扑救时要注意自身安全，先控制后扑灭，</tspan><tspan x="341" dy="17">对电器火灾要先切断电源，再进行扑救，不</tspan><tspan x="341" dy="17">能用水扑救带电设备。对油类火灾要用泡沫</tspan><tspan x="341" dy="17">、干粉灭火器扑救。消防队到达后，要主动</tspan><tspan x="341" dy="17">介绍火场情况，服从消防人员统一指挥，协</tspan><tspan x="341" dy="17">助做好灭火工作。</tspan></text></g>
<g id="p2d5"><path class="bx" d="M663 2167h270l8 8v209h-278z"/><text class="t" x="672" y="2187"><tspan x="672" dy="0">5、配合消防部门调查事故原因，维持秩序。</tspan><tspan x="672" dy="17">划出警戒范围，严禁其他车辆和无关人员进入</tspan><tspan x="672" dy="17">着火现场，以免发生不必要的伤亡，同时也为</tspan><tspan x="672" dy="17">火灾消灭后的调查起火原因提供有力证据。如</tspan><tspan x="672" dy="17">果在火灾调查人员未到之前火灾已经扑灭，失</tspan><tspan x="672" dy="17">火单位应当把了解的情况向他们介绍，并将火</tspan><tspan x="672" dy="17">灾现场保护工作移交给火灾调查组，配合调查</tspan><tspan x="672" dy="17">组提供当事人或见证人。当火灾发生时要充分</tspan><tspan x="672" dy="17">发挥共青团、治保会、义务消防队的作用，做</tspan><tspan x="672" dy="17">好受伤人员的护理工作，医务室应备好止血药</tspan><tspan x="672" dy="17">、绷带等必备药品，同时组织人员和车辆急送</tspan><tspan x="672" dy="17">伤员。</tspan></text></g>

<g id="p4"><path d="M1094 3220h202l8 8v33h-210z" fill="#4a90d9" stroke="#fff" stroke-width="1"/><text class="lb" x="1104" y="3247" fill="#fff">预防火灾应急预案【篇4】</text></g>
<g id="p4a"><path class="bx" d="M971 2773h86l8 8v22h-94z"/><text class="t" x="980" y="2793">一、事前预防</text></g>
<g id="p4a1"><path class="bx" d="M695 2413h239l8 8v22h-247z"/><text class="t" x="704" y="2433">1．学校必须建立切实可行的消防制度。</text></g>
<g id="p4a2"><path class="bx" d="M663 2472h271l8 8v56h-279z"/><text class="t" x="672" y="2492"><tspan x="672" dy="0">2．配齐合格的消防器材，按照标准安装应急</tspan><tspan x="672" dy="17">照明灯及疏散标志，并保持完好，定期检查，</tspan><tspan x="672" dy="17">随时保证使用。</tspan></text></g>
<g id="p4a3"><path class="bx" d="M663 2565h271l8 8v39h-279z"/><text class="t" x="672" y="2585"><tspan x="672" dy="0">3．禁止学生携带烟花、爆竹、火柴、打火机</tspan><tspan x="672" dy="17">等易燃易爆物品进校。</tspan></text></g>
<g id="p4a4"><path class="bx" d="M663 2640h271l8 8v39h-279z"/><text class="t" x="672" y="2660"><tspan x="672" dy="0">4．加强实验室管理，对易燃易爆实验用品要</tspan><tspan x="672" dy="17">有专人负责保管，随用随领。</tspan></text></g>
<g id="p4a5"><path class="bx" d="M663 2715h271l8 8v39h-279z"/><text class="t" x="672" y="2735"><tspan x="672" dy="0">5．要有专人经常检查电路电线、电器设备等</tspan><tspan x="672" dy="17">，发现问题及时整改。</tspan></text></g>
<g id="p4a6"><path class="bx" d="M663 2790h271l8 8v56h-279z"/><text class="t" x="672" y="2810"><tspan x="672" dy="0">6．严格校内用火、用电、用气与锅炉管理。</tspan><tspan x="672" dy="17">对食堂、仓库、实验室、图书馆、宿舍等要严</tspan><tspan x="672" dy="17">格按照防火规定管理使用。</tspan></text></g>
<g id="p4a7"><path class="bx" d="M663 2883h271l8 8v39h-279z"/><text class="t" x="672" y="2903"><tspan x="672" dy="0">7．要加强对学生防火安全教育与管理。不得</tspan><tspan x="672" dy="17">擅自拉设电线或使用学校规定以外的电器。</tspan></text></g>
<g id="p4a8"><path class="bx" d="M663 2958h271l8 8v39h-279z"/><text class="t" x="672" y="2978"><tspan x="672" dy="0">8．校舍的楼梯、楼道、楼门等严禁堆放杂物</tspan><tspan x="672" dy="17">，上课时教室前后门不得上锁，保持畅通。</tspan></text></g>
<g id="p4a9"><path class="bx" d="M663 3033h271l8 8v56h-279z"/><text class="t" x="672" y="3053"><tspan x="672" dy="0">9．向教师、学生传授与普及防火、灭火、逃</tspan><tspan x="672" dy="17">生知识，每学期组织开展逃生演练。学校组织</tspan><tspan x="672" dy="17">开展集体活动前，要制定防火应急预案。</tspan></text></g>
<g id="p4a10"><path class="bx" d="M663 3126h271l8 8v39h-279z"/><text class="t" x="672" y="3146"><tspan x="672" dy="0">10．禁止学生到火场救火，禁止到烧烤场以</tspan><tspan x="672" dy="17">外的地方野炊。</tspan></text></g>
<g id="p4b"><path class="bx" d="M918 3673h138l8 8v22h-146z"/><text class="t" x="927" y="3693">二、事故应急处置程序</text></g>
<g id="p4b1"><path class="bx" d="M610 3201h270l8 8v56h-278z"/><text class="t" x="619" y="3221"><tspan x="619" dy="0">1．获得火灾信息的任何人员，都应当在第一</tspan><tspan x="619" dy="17">时间打119报警，并同时向值班领导与单位领</tspan><tspan x="619" dy="17">导报告。学校及时安排人员在路口接消防车。</tspan></text></g>
<g id="p4b2"><path class="bx" d="M610 3294h270l8 8v39h-278z"/><text class="t" x="619" y="3314"><tspan x="619" dy="0">2．学校立即启动火灾应急预案，并将学校火</tspan><tspan x="619" dy="17">灾状况及时向镇联校、镇政府与教育局报告。</tspan></text></g>
<g id="p4b3"><path class="bx" d="M610 3370h270l8 8v39h-278z"/><text class="t" x="619" y="3390"><tspan x="619" dy="0">3．在初起火点现场的教职员工，要使用消防</tspan><tspan x="619" dy="17">栓、灭火器材等进行灭火自救。</tspan></text></g>
<g id="p4b4"><path class="bx" d="M610 3446h270l8 8v107h-278z"/><text class="t" x="619" y="3466"><tspan x="619" dy="0">4．校舍发生火灾时，当班或值班教师要在第</tspan><tspan x="619" dy="17">一时间迅速判断火灾情况。若能冲出火灾区的</tspan><tspan x="619" dy="17">，应指导学生用毛巾浸水后低身有序地沿楼梯</tspan><tspan x="619" dy="17">到达底层地面开阔地。下楼梯时要有秩序，不</tspan><tspan x="619" dy="17">可拥挤，推搡。火灾太大，一时不能出火灾区</tspan><tspan x="619" dy="17">的，应采取其它应急措施等待援助。</tspan></text></g>
<g id="p4b5"><path class="bx" d="M610 3588h270l8 8v107h-278z"/><text class="t" x="619" y="3608"><tspan x="619" dy="0">5．各救援小组迅速赶赴指定位置，在楼梯口</tspan><tspan x="619" dy="17">、拐弯口、叉道路引导学生安全撤离。抢救小</tspan><tspan x="619" dy="17">组在消防队到达之前全力灭火，控制火势，保</tspan><tspan x="619" dy="17">障应急照明，为安全疏散创造条件。在集合地</tspan><tspan x="619" dy="17">点对学校所有人员进行清点，寻找滞留在现场</tspan><tspan x="619" dy="17">的人员。</tspan></text></g>
<g id="p4b6"><path class="bx" d="M610 3731h270l8 8v39h-278z"/><text class="t" x="619" y="3751"><tspan x="619" dy="0">6．救护小组应当努力营救事故现场的伤员，</tspan><tspan x="619" dy="17">并将他们安全转移。</tspan></text></g>
<g id="p4b7"><path class="bx" d="M610 3808h270l8 8v90h-278z"/><text class="t" x="619" y="3828"><tspan x="619" dy="0">7．警戒小组要立即在事故现场和学校周围设</tspan><tspan x="619" dy="17">置警戒线，维护现场秩序，引导外部救援人员</tspan><tspan x="619" dy="17">进入现场，保护学校财产安全。火灾扑灭后，</tspan><tspan x="619" dy="17">必须根据应急总指挥或消防部门的命令方可解</tspan><tspan x="619" dy="17">除学校周围警戒线和事故现场警戒线。</tspan></text></g>
<g id="p4b8"><path class="bx" d="M610 3933h270l8 8v56h-278z"/><text class="t" x="619" y="3953"><tspan x="619" dy="0">8．协助有关部门做好疫情监测监控，生活用</tspan><tspan x="619" dy="17">水的消毒与监测，食品卫生检查监控和被污染</tspan><tspan x="619" dy="17">环境的消毒处理等工作。</tspan></text></g>
<g id="p4b9"><path class="bx" d="M610 4026h270l8 8v56h-278z"/><text class="t" x="619" y="4046"><tspan x="619" dy="0">9．了解师生及家属基本情况、做好受伤者及</tspan><tspan x="619" dy="17">死者家属的稳定、慰问工作。需心理疏导的开</tspan><tspan x="619" dy="17">展心理疏导工作。</tspan></text></g>
<g id="p4b10"><path class="bx" d="M684 4127h196l8 8v22h-204z"/><text class="t" x="693" y="4147">10．尽快恢复破坏的水、电和通讯设施。</text></g>
<g id="p4b11"><path class="bx" d="M327 4118h270l8 8v39h-278z"/><text class="t" x="336" y="4138"><tspan x="336" dy="0">11.在事件原因未查明之前，任何个人不得私</tspan><tspan x="336" dy="17">自对外发布信息。</tspan></text></g>
<g id="p4b12"><path class="bx" d="M56 4127h233l8 8v22h-241z"/><text class="t" x="65" y="4147">12．有人员受伤的及时通知保险机构。</text></g>
</g>
</svg>
